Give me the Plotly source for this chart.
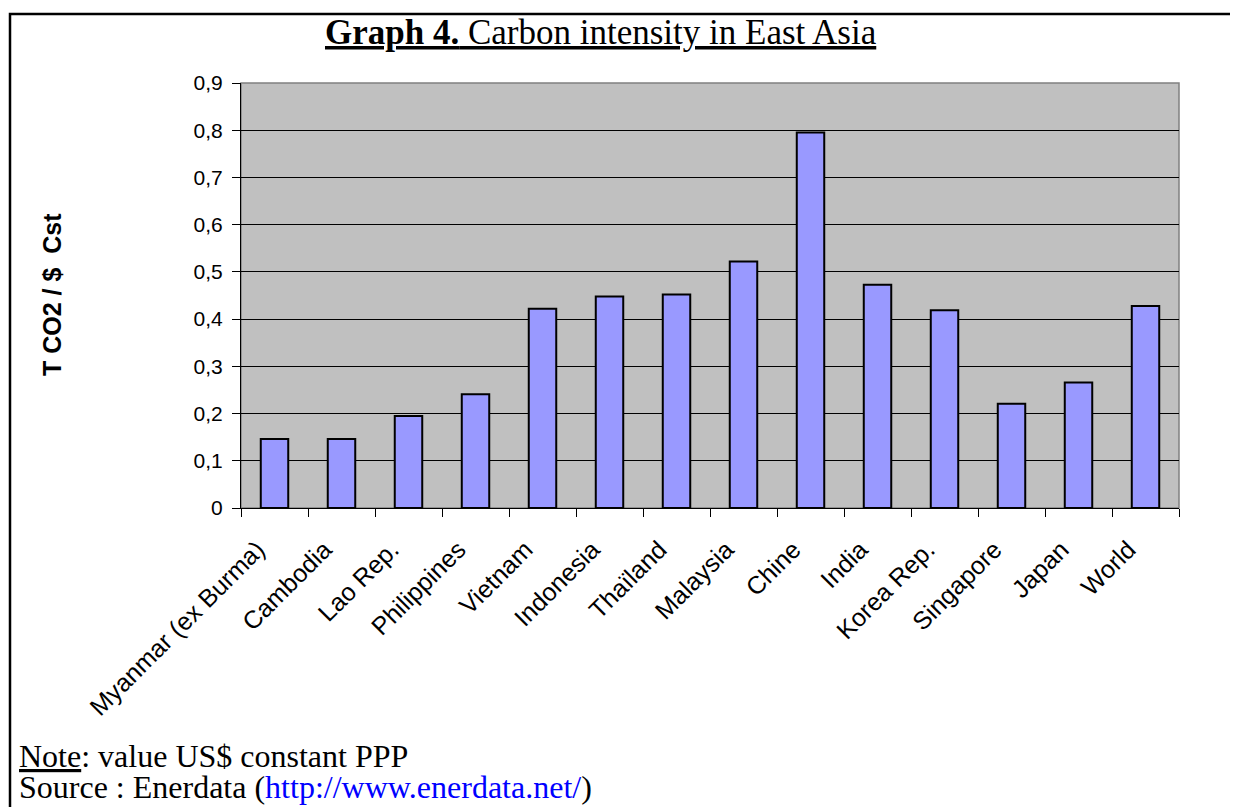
import plotly.graph_objects as go

countries = ["Myanmar (ex Burma)", "Cambodia", "Lao Rep.", "Philippines", "Vietnam",
             "Indonesia", "Thaïland", "Malaysia", "Chine", "India", "Korea Rep.",
             "Singapore", "Japan", "World"]
intensity = [0.146, 0.146, 0.195, 0.241, 0.422, 0.448, 0.452, 0.522, 0.795,
             0.473, 0.419, 0.221, 0.266, 0.428]
y_ticks = [0, 0.1, 0.2, 0.3, 0.4, 0.5, 0.6, 0.7, 0.8, 0.9]
y_tick_text = ["0", "0,1", "0,2", "0,3", "0,4", "0,5", "0,6", "0,7", "0,8", "0,9"]

# page offset (default body margin of the html page)
OFF = 8
W, H = 1238 - OFF, 807 - OFF
# plot area in page pixels
L, R, T, B = 241, 1179, 83, 508

def px(x):
    return (x - L) / (R - L)

def py(y):
    return (B - y) / (B - T)

fig = go.Figure(go.Bar(
    x=countries, y=intensity,
    marker=dict(color="#9999FF", line=dict(color="black", width=2)),
))

fig.update_layout(
    width=W, height=H,
    margin=dict(l=L - OFF, r=1238 - R, t=T - OFF, b=807 - B),
    paper_bgcolor="white", plot_bgcolor="#C0C0C0",
    bargap=0.59,
    showlegend=False,
    font=dict(family="Liberation Sans, Arial", color="black"),
)
fig.update_yaxes(
    range=[0, 0.9], tickvals=y_ticks, ticktext=y_tick_text,
    showgrid=True, gridcolor="black", gridwidth=1,
    showline=True, linecolor="black", linewidth=1,
    ticks="outside", ticklen=8, tickcolor="black",
    ticklabelstandoff=5,
    tickfont=dict(size=21, family="Liberation Sans, Arial"),
    zeroline=False,
)
fig.update_xaxes(
    tickangle=-45, tickfont=dict(size=25, family="Liberation Sans, Arial"),
    showline=True, linecolor="black", linewidth=1,
    ticks="outside", ticklen=8, tickcolor="black", tickson="boundaries",
    ticklabelstandoff=16, ticklabelshift=-17,
    showgrid=False,
)

shapes = [
    # plot area border (gray)
    dict(type="rect", xref="paper", yref="paper", x0=0, x1=1, y0=0, y1=1,
         line=dict(color="#808080", width=1.5), layer="below"),
    # outer frame
    dict(type="rect", xref="paper", yref="paper",
         x0=px(10), x1=px(1260), y0=py(14), y1=py(830),
         line=dict(color="black", width=2.5)),
]
fig.update_layout(shapes=shapes)

serif = "Liberation Serif, Times New Roman"
fig.add_annotation(
    xref="paper", yref="paper", x=px(52), y=py(295), xanchor="center", yanchor="middle",
    text="<b>T CO2 / $  Cst</b>", textangle=-90,
    showarrow=False, font=dict(family="Liberation Sans, Arial", size=25, color="black"),
)
fig.add_annotation(
    xref="paper", yref="paper", x=px(601), y=py(33), xanchor="center", yanchor="middle",
    text="<span style='text-decoration:underline'><b>Graph 4.</b> Carbon intensity in East Asia</span>",
    showarrow=False, font=dict(family=serif, size=35, color="black"),
)
fig.add_annotation(
    xref="paper", yref="paper", x=px(17), y=py(756), xanchor="left", yanchor="middle",
    text="<span style='text-decoration:underline'>Note</span>: value US$ constant PPP",
    showarrow=False, font=dict(family=serif, size=32, color="black"),
)
fig.add_annotation(
    xref="paper", yref="paper", x=px(17), y=py(787), xanchor="left", yanchor="middle",
    text="Source : Enerdata (<span style='color:#0000FF'>http://www.enerdata.net/</span>)",
    showarrow=False, font=dict(family=serif, size=32, color="black"),
)

fig.write_html("out.html")
